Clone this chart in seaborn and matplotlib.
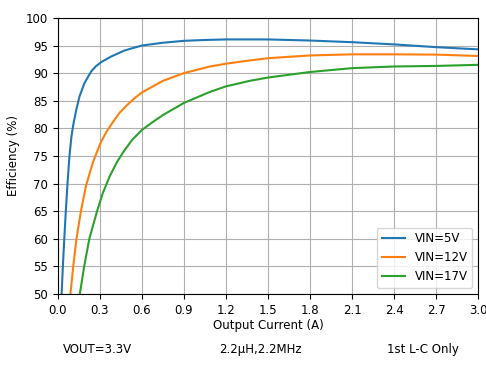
import numpy as np
import pandas as pd
import matplotlib
matplotlib.use("Agg")
import matplotlib.pyplot as plt
import seaborn as sns

series_names = ["VIN=5V", "VIN=12V", "VIN=17V"]

x_5v = [0.027, 0.036, 0.046, 0.057, 0.069, 0.083, 0.097, 0.11, 0.131, 0.155, 0.19, 0.238, 0.27,
        0.31, 0.38, 0.476, 0.6, 0.75, 0.9, 1.05, 1.2, 1.5, 1.8, 2.1, 2.4, 2.7, 3.0]
y_5v = [50, 55, 60, 65, 70, 75, 78.5, 80.6, 83.3, 85.8, 88.2, 90.3, 91.2,
        92.0, 93.0, 94.1, 95.0, 95.5, 95.85, 96.0, 96.1, 96.1, 95.9, 95.6, 95.2, 94.7, 94.3]

x_12v = [0.09, 0.11, 0.133, 0.165, 0.2, 0.25, 0.305, 0.35, 0.395, 0.44, 0.49, 0.545, 0.6, 0.75,
         0.9, 1.086, 1.2, 1.37, 1.5, 1.8, 2.1, 2.4, 2.7, 3.0]
y_12v = [50, 55, 60, 65, 69.5, 73.8, 77.4, 79.5, 81.2, 82.8, 84.1, 85.4, 86.5, 88.6,
         90.0, 91.2, 91.7, 92.3, 92.7, 93.2, 93.4, 93.4, 93.35, 93.1]

x_17v = [0.157, 0.188, 0.225, 0.28, 0.32, 0.37, 0.42, 0.467, 0.53, 0.6, 0.675, 0.75, 0.9,
         1.086, 1.2, 1.37, 1.5, 1.8, 2.1, 2.4, 2.7, 3.0]
y_17v = [50, 55, 60, 65, 68.2, 71.3, 73.8, 75.7, 77.9, 79.7, 81.1, 82.4, 84.6,
         86.6, 87.6, 88.6, 89.2, 90.2, 90.9, 91.2, 91.3, 91.5]

x_ticks = [0.0, 0.3, 0.6, 0.9, 1.2, 1.5, 1.8, 2.1, 2.4, 2.7, 3.0]
y_ticks = [50, 55, 60, 65, 70, 75, 80, 85, 90, 95, 100]
footer = ["VOUT=3.3V", "2.2\u03bcH,2.2MHz", "1st L-C Only"]

frames = []
for name, xs, ys in zip(series_names, [x_5v, x_12v, x_17v], [y_5v, y_12v, y_17v]):
    frames.append(pd.DataFrame({"current": xs, "eff": ys, "series": name}))
df = pd.concat(frames, ignore_index=True)

plt.rcParams["font.family"] = ["DejaVu Sans"]
plt.rcParams["font.size"] = 8.5

fig = plt.figure(figsize=(4.86, 3.73), dpi=100)
ax = fig.add_axes([0.119, 0.212, 0.865, 0.740])
sns.lineplot(data=df, x="current", y="eff", hue="series", hue_order=series_names,
             palette=["#1f77b4", "#ff7f0e", "#2ca02c"], linewidth=1.5, sort=False,
             estimator=None, ax=ax)
ax.set_xlim(0, 3.0)
ax.set_ylim(50, 100)
ax.set_xticks(x_ticks)
ax.set_xticklabels([f"{v:.1f}" for v in x_ticks])
ax.set_yticks(y_ticks)
ax.grid(True, color="#b0b0b0", linewidth=0.8)
ax.set_axisbelow(True)
ax.set_xlabel("Output Current (A)", labelpad=2)
ax.set_ylabel("Efficiency (%)")
handles, labels = ax.get_legend_handles_labels()
ax.legend(handles, labels, loc="lower right")

fig.text(0.20, 0.062, footer[0], ha="center", va="center")
fig.text(0.535, 0.062, footer[1], ha="center", va="center")
fig.text(0.87, 0.062, footer[2], ha="center", va="center")

fig.savefig("out.png", dpi=100)
